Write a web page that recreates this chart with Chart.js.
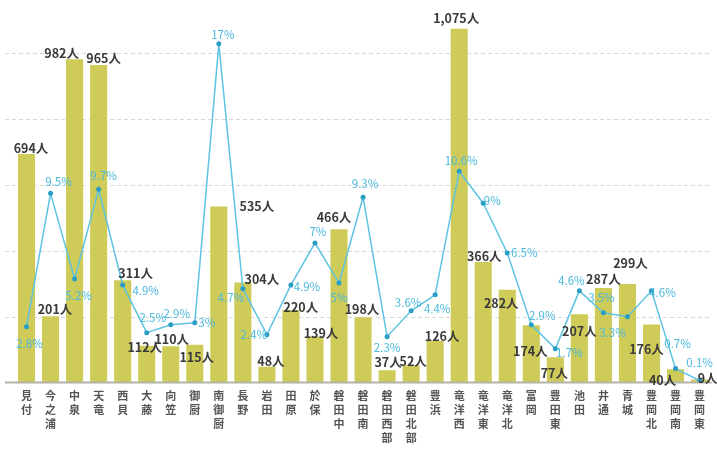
<!DOCTYPE html>
<html><head><meta charset="utf-8">
<script src="https://cdn.jsdelivr.net/npm/chart.js@4"></script>
<style>html,body{margin:0;padding:0;background:#fff}#wrap{width:717px;height:450px}</style>
</head><body><div id="wrap"><canvas id="c" width="717" height="450"></canvas></div>
<script>
const categories = ['見付','今之浦','中泉','天竜','西貝','大藤','向笠','御厨','南御厨','長野','岩田','田原','於保','磐田中','磐田南','磐田西部','磐田北部','豊浜','竜洋西','竜洋東','竜洋北','富岡','豊田東','池田','井通','青城','豊岡北','豊岡南','豊岡東'];
const people = [694,201,982,965,311,112,110,115,535,304,48,220,139,466,198,37,52,126,1075,366,282,174,77,207,287,299,176,40,9];
const rates = [2.8,9.5,5.2,9.7,4.9,2.5,2.9,3,17,4.7,2.4,4.9,7,5,9.3,2.3,3.6,4.4,10.6,9,6.5,2.9,1.7,4.6,3.5,3.3,4.6,0.7,0.1];
const gridValues = [200,400,600,800,1000];

// label placement offsets (text centre relative to bar top / line point)
const peopleLabelOffset = [[4.5,-6],[4.5,-7],[-13,-6],[5,-6.5],[13,-7],[-2,2],[1,-7],[2,13],[38,0],[19,-3],[4,-5],[10,-3],[6,-4],[-5,-12],[-1,-8],[1,-8],[2,-4],[7,-5],[-3,-10],[1,-6],[-6,14],[-1,26],[-1,16],[0,17],[0,-9],[3,-21],[-5,25],[-13,11],[8,-1]];
const rateLabelOffset = [[3,17],[8,-12],[4,17],[5,-14],[23,6],[6,-15],[6,-11],[12,0],[4,-9],[-12,9],[-13,0],[16,2],[3,-11],[0,15],[2,-14],[0,11],[-3,-8],[2,14],[2,-11],[9,-3],[17,0],[11,-9],[14,4],[-8,-10],[-2,-15],[-15,16],[11,2],[2,-25],[0,-18]];

const labelFont = "'Liberation Sans Narrow','Noto Sans CJK JP',sans-serif";

const decor = {
  id: 'decor',
  beforeDatasetsDraw(chart) {
    const ctx = chart.ctx, y = chart.scales.y, a = chart.chartArea;
    ctx.save();
    ctx.strokeStyle = '#d9d9d9';
    ctx.lineWidth = 1;
    ctx.setLineDash([4, 3]);
    gridValues.forEach(v => {
      const py = Math.round(y.getPixelForValue(v)) + 0.5;
      ctx.beginPath(); ctx.moveTo(5, py); ctx.lineTo(a.right, py); ctx.stroke();
    });
    ctx.restore();
  },
  afterDatasetsDraw(chart) {
    const ctx = chart.ctx, a = chart.chartArea;
    ctx.save();
    ctx.strokeStyle = '#b3b3a6';
    ctx.lineWidth = 2;
    ctx.beginPath(); ctx.moveTo(5, a.bottom); ctx.lineTo(a.right, a.bottom); ctx.stroke();
    const bars = chart.getDatasetMeta(1).data;
    ctx.textAlign = 'center';
    ctx.textBaseline = 'middle';
    ctx.font = "bold 12.5px " + labelFont;
    ctx.fillStyle = '#3a3a3a';
    bars.forEach((b, i) => {
      const o = peopleLabelOffset[i];
      ctx.fillText(people[i].toLocaleString('en-US') + '人', b.x + o[0], b.y + o[1]);
    });
    const pts = chart.getDatasetMeta(0).data;
    ctx.font = "11.5px " + labelFont;
    ctx.fillStyle = '#4bb9dd';
    pts.forEach((p, i) => {
      const o = rateLabelOffset[i];
      ctx.fillText(rates[i] + '%', p.x + o[0], p.y + o[1]);
    });
    ctx.restore();
  }
};

new Chart(document.getElementById('c'), {
  data: {
    labels: categories.map(s => Array.from(s)),
    datasets: [
      { type: 'line', data: rates, yAxisID: 'y1', order: 0,
        borderColor: '#5ec4e2', borderWidth: 1.5, tension: 0,
        pointRadius: 2.5, pointBackgroundColor: '#2a9dc4', pointBorderWidth: 0 },
      { type: 'bar', data: people, yAxisID: 'y', order: 1,
        backgroundColor: '#cfcb58', barPercentage: 0.71, categoryPercentage: 1 }
    ]
  },
  options: {
    responsive: false,
    animation: false,
    layout: { padding: { left: 14.5, right: 5.4, top: 0, bottom: 0 } },
    plugins: { legend: { display: false }, tooltip: { enabled: false } },
    scales: {
      x: {
        grid: { display: false, drawTicks: false },
        border: { display: false },
        ticks: { padding: 6, color: '#555', autoSkip: false, maxRotation: 0,
          font: { family: "'Noto Sans CJK JP',sans-serif", size: 11, weight: 'bold', lineHeight: 1.27 } },
        afterFit(s) { s.height = 67.5; }
      },
      y: { display: false, min: 0, max: 1150 },
      y1: { display: false, min: 0, max: 19 }
    }
  },
  plugins: [decor]
});
</script>
</body></html>
